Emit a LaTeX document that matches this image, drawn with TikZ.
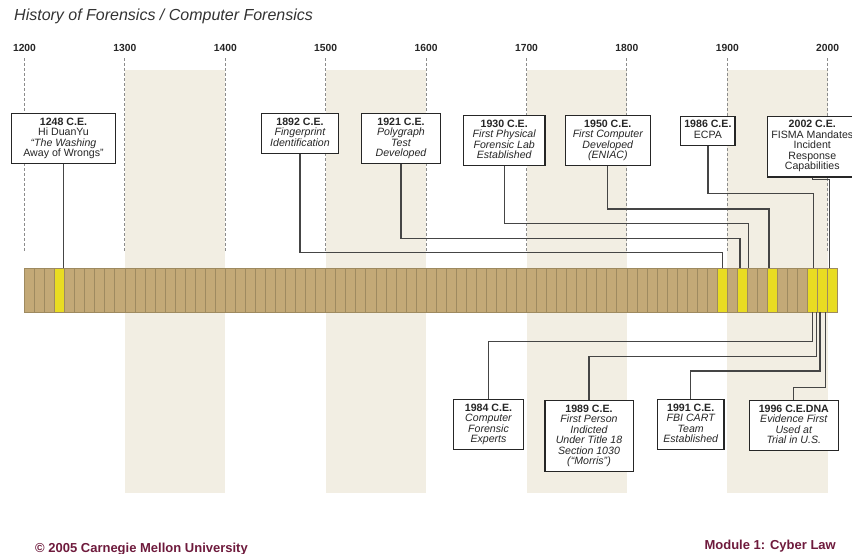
\documentclass[tikz,border=0pt]{standalone}
\usepackage{fontspec}
\setmainfont{Liberation Sans}
\usepackage{xcolor}
\usetikzlibrary{positioning}
\definecolor{bandc}{HTML}{F2EEE3}
\definecolor{tanc}{HTML}{C3A977}
\definecolor{tanline}{HTML}{9E8A60}
\definecolor{markc}{HTML}{E9DC22}
\definecolor{linkc}{HTML}{454545}
\definecolor{footc}{HTML}{6E1A3C}
\tikzset{
	box/.style={draw=black!85, fill=white, line width=1.3pt, align=center, anchor=north,
		inner xsep=2pt, inner ysep=4pt, text=black!85,
		font=\fontsize{10.6}{10.5}\selectfont,
		execute at begin node=\strut, execute at end node=\strut},
	link/.style={draw=linkc, line width=1.3pt},
	yearline/.style={draw=black!45, line width=1.1pt, dash pattern=on 3pt off 2pt}
}

\begin{document}
\begin{tikzpicture}[x=1pt, y=-1pt,
			cell/.style={fill=tanc, draw=tanline, line width=0.8pt}
			]
			\useasboundingbox (0,0) rectangle (852,554);
			\clip (0,0) rectangle (852,554);
			
			% Title
			\node[anchor=base west, inner sep=0pt, text=black!80, font=\fontsize{16}{18}\selectfont\itshape] (title) at (14,20) {History of Forensics / Computer Forensics};
			
			% Century bands and year lines
			\foreach \yr in {1300,1500,1700,1900}
				\fill[bandc] ({24.5+1.004*(\yr-1200)},70) rectangle ({24.5+1.004*(\yr-1100)},493.3);
			\foreach \yr in {1200,1300,...,2000} {
				\draw[yearline] ({24.5+1.004*(\yr-1200)},58) -- ({24.5+1.004*(\yr-1200)},252);
				\node[inner sep=0pt, font=\fontsize{10.3}{12}\selectfont\bfseries, text=black!85] (y\yr) at ({24.5+1.004*(\yr-1200)},48) {\yr};
			}
			
			% Decade bar
			\foreach \i in {0,...,80}
				\draw[cell] ({24.5+10.04*\i},268) rectangle ++(10.04,44.3);
			\foreach \i in {3,69,71,74,78,79,80}
				\draw[cell, fill=markc] ({24.5+10.04*\i},268) rectangle ++(10.04,44.3);
			
			% Points on the bar
			\coordinate (t1248) at (63.5,268);
			\coordinate (t1892) at (722.3,268);
			\coordinate (t1921) at (740,268);
			\coordinate (t1930) at (748.3,268);
			\coordinate (t1950) at (769,268);
			\coordinate (t1986) at (813.3,268);
			\coordinate (t2002) at (829.3,268);
			\coordinate (u1984) at (812.3,312.3);
			\coordinate (u1989) at (816.7,312.3);
			\coordinate (u1991) at (820,312.3);
			\coordinate (u1996) at (825.7,312.3);
			
			% Events above the bar
			\node[box, minimum width=104pt] (b1248) at (63.5,113) {\bfseries 1248 C.E.\\ Hi DuanYu\\ \mdseries\itshape “The Washing\\ Away of Wrongs”};
			\node[box, minimum width=76.6pt] (b1892) at (300,113) {\textbf{1892 C.E.}\\ \itshape Fingerprint\\ \itshape Identification};
			\node[box, minimum width=78.6pt] (b1921) at (401,113) {\textbf{1921 C.E.}\\ \itshape Polygraph\\ \itshape Test\\ \itshape Developed};
			\node[box, minimum width=81.7pt] (b1930) at (504.2,115) {\textbf{1930 C.E.}\\ \itshape First Physical\\ \itshape Forensic Lab\\ \itshape Established};
			\node[box, minimum width=85pt] (b1950) at (607.8,115) {\textbf{1950 C.E.}\\ \itshape First Computer\\ \itshape Developed\\ \itshape (ENIAC)};
			\node[box, minimum width=54.3pt] (b1986) at (707.9,115.7) {\textbf{1986 C.E.}\\ ECPA};
			\node[box, minimum width=89pt] (b2002) at (812.3,115.7) {\textbf{2002 C.E.}\\ FISMA Mandates\\ Incident\\ Response\\ Capabilities};
			
			% Events below the bar
			\node[box, minimum width=70pt] (b1984) at (488.5,399) {\textbf{1984 C.E.}\\ \itshape Computer\\ \itshape Forensic\\ \itshape Experts};
			\node[box, minimum width=88.3pt] (b1989) at (589,400) {\textbf{1989 C.E.}\\ \itshape First Person\\ \itshape Indicted\\ \itshape Under Title 18\\ \itshape Section 1030\\ \itshape (“Morris”)};
			\node[box, minimum width=66.7pt] (b1991) at (690.7,399) {\textbf{1991 C.E.}\\ \itshape FBI CART\\ \itshape Team\\ \itshape Established};
			\node[box, minimum width=89pt] (b1996) at (793.8,400) {\textbf{1996 C.E.DNA}\\ \itshape Evidence First\\ \itshape Used at\\ \itshape Trial in U.S.};
			
			% Connectors
			\draw[link] (b1248.south) -- (t1248);
			\draw[link] (b1892.south) -- (b1892.south |- 0,252.7) -| (t1892);
			\draw[link] (b1921.south) -- (b1921.south |- 0,238.3) -| (t1921);
			\draw[link] (b1930.south) -- (b1930.south |- 0,223.3) -| (t1930);
			\draw[link] (b1950.south) -- (b1950.south |- 0,209) -| (t1950);
			\draw[link] (b1986.south) -- (b1986.south |- 0,193.3) -| (t1986);
			\draw[link] (b2002.south) -- (b2002.south |- 0,179.3) -| (t2002);
			\draw[link] (u1984) -- (u1984 |- 0,341.7) -| (b1984.north);
			\draw[link] (u1989) -- (u1989 |- 0,356.7) -| (b1989.north);
			\draw[link] (u1991) -- (u1991 |- 0,371) -| (b1991.north);
			\draw[link] (u1996) -- (u1996 |- 0,387.7) -| (b1996.north);
			
			% Footer
			\node[anchor=base west, inner sep=0pt, text=footc, font=\fontsize{13}{15}\selectfont\bfseries] (copy) at (35,552) {© 2005 Carnegie Mellon University};
			\node[anchor=base east, inner sep=0pt, text=footc, font=\fontsize{13}{15}\selectfont\bfseries] (module) at (836,549) {Module 1: Cyber Law};
			
		\end{tikzpicture}
\end{document}
